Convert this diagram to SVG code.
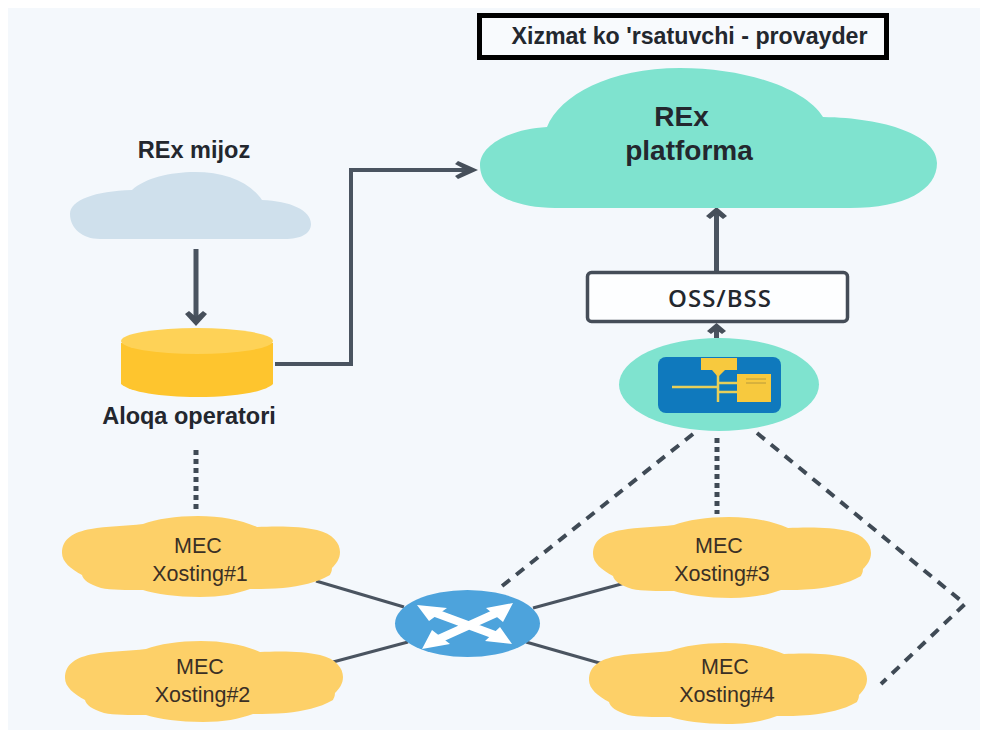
<svg xmlns="http://www.w3.org/2000/svg" width="984" height="735" viewBox="0 0 984 735">
<style>
text{font-family:"Liberation Sans",Arial,sans-serif;fill:#23272e}
.b{font-weight:700}
.mec{fill:#fdd068}
.m{font-size:21.5px;text-anchor:middle;fill:#3a2f25}
.line{fill:none;stroke:#4a5460}
.head{fill:#464f5a}
.dash{fill:none;stroke:#3f4a55;stroke-width:4;stroke-dasharray:10 8}
.dots{fill:none;stroke:#3f4a55;stroke-width:5;stroke-dasharray:5 4}
</style>
<defs>
<path id="mc" d="M-139 0C-139-14-128-21-110-24C-95-27-75-27-58-29C-45-34-25-37-3-37C20-37 40-33 56-26C75-27 100-27 116-23C132-19 139-10 139-1C139 6 135 11 131 15C131 19 129 21 129 22C115 30 100 33 82 35C70 36 60 36 49 36C35 41 20 44 -1 44C-25 44-45 41-58 37C-75 37-90 37-100 35C-112 31-118 27-119 22C-130 16-139 9-139 0Z"/>
</defs>
<rect width="984" height="735" fill="#ffffff"/>
<rect x="8" y="8" width="972" height="722" fill="#f4f8fc"/>
<g id="connectors">
<path class="line" stroke-width="5" d="M196 249V322"/>
<path class="head" d="M185 314L189 311L196 317L203 311L207 314L196 326Z"/>
<path class="line" stroke-width="4" d="M275 364H351V170H470"/>
<path class="head" d="M455 164L458 161L478 170L458 179L455 176L466 170Z"/>
<path class="line" stroke-width="5" d="M716.500 272V212"/>
<path class="head" d="M706 216L716.500 207L727 216L723 219L716.500 214L710 219Z"/>
<path class="line" stroke-width="5" d="M716.500 338V328"/>
<path class="head" d="M707 331L716.500 323L726 331L722 334L716.500 330L711 334Z"/>
<path class="dots" d="M196 450V512"/>
<path class="dash" d="M693 434L497 590"/>
<path class="dots" d="M717 438V514"/>
<path class="dash" d="M757 433L965 604L881 684"/>
<path class="line" stroke-width="3" d="M316 581L404 607"/>
<path class="line" stroke-width="3" d="M333 662L408 642"/>
<path class="line" stroke-width="3" d="M533 608L625 583"/>
<path class="line" stroke-width="3" d="M526 642L610 666"/>
</g>
<g id="provider"><rect x="479.500" y="15.500" width="407" height="42" fill="#f8fafd" stroke="#000" stroke-width="5"/><text class="b" x="689.500" y="44" font-size="23.200" text-anchor="middle" fill="#111">Xizmat ko 'rsatuvchi - provayder</text></g>
<g id="platform"><path fill="#7fe3cf" d="M480 165C480 145 510 129 547 127C560 95 610 68 680 68C745 68 805 88 823 117C885 118 937 135 937 163C937 190 905 208 850 208H555C510 208 480 190 480 165Z"/><text class="b" x="681.500" y="126" font-size="28" text-anchor="middle">REx</text><text class="b" x="689" y="160" font-size="28" text-anchor="middle">platforma</text></g>
<g id="client"><path fill="#cfe0ec" d="M70 214C70 200 95 191 132 190C145 178 170 172 195 172C225 172 250 182 262 200C290 201 311 210 311 224C311 234 300 239 285 239H100C82 239 70 228 70 214Z"/><text class="b" x="194" y="158" font-size="23.500" text-anchor="middle">REx mijoz</text></g>
<g id="operator"><path fill="#fec52e" d="M121 343V384C130 392 160 397 197 397C235 397 265 392 273 384V343Z"/><ellipse cx="197" cy="341" rx="76" ry="13" fill="#fed257"/><text class="b" x="189" y="424" font-size="23.500" text-anchor="middle">Aloqa operatori</text></g>
<g id="oss"><rect x="587.500" y="272.500" width="260" height="49" rx="4" fill="#fdfeff" stroke="#454d58" stroke-width="3.500"/><text x="720" y="307" font-size="24" text-anchor="middle" letter-spacing="1" font-weight="600" style="font-family:'Open Sans',sans-serif">OSS/BSS</text></g>
<g id="orchestrator"><ellipse cx="719" cy="384.500" rx="100" ry="46.500" fill="#7fe3cf"/><rect x="658" y="357" width="123" height="56" rx="8" fill="#0f79bd"/><rect x="701" y="358" width="36" height="12" fill="#f7c93e"/><path d="M718 370V402M672 387H718M718 383H737M718 392H737" stroke="#e7cf5a" stroke-width="2.500" fill="none"/><path d="M712 370H725L718 377Z" fill="#f7c93e"/><rect x="737" y="374" width="34" height="28" fill="#f7c93e"/><path d="M746 379H766M746 383H766" stroke="#b89a3a"/></g>
<g id="mec1"><use href="#mc" x="201" y="553" class="mec"/><text class="m" x="198" y="553">MEC</text><text class="m" x="200" y="581">Xosting#1</text></g>
<g id="mec2"><use href="#mc" x="204" y="678" class="mec"/><text class="m" x="200" y="674">MEC</text><text class="m" x="202.500" y="702">Xosting#2</text></g>
<g id="mec3"><use href="#mc" x="732" y="554" class="mec"/><text class="m" x="719" y="553">MEC</text><text class="m" x="722" y="581">Xosting#3</text></g>
<g id="mec4"><use href="#mc" x="728" y="680" class="mec"/><text class="m" x="725" y="674">MEC</text><text class="m" x="727" y="702">Xosting#4</text></g>
<g id="router"><ellipse cx="467.500" cy="623.500" rx="72.500" ry="33.500" fill="#4da3dc"/><path stroke="#fff" stroke-width="8" fill="none" d="M430 611L503 638M503 610L432 642"/><path fill="#fff" d="M417 605L447 608L429 621ZM513 603L486 608L503 622ZM512 644L485 641L500 627ZM422 649L432 630L450 644Z"/></g>
</svg>
